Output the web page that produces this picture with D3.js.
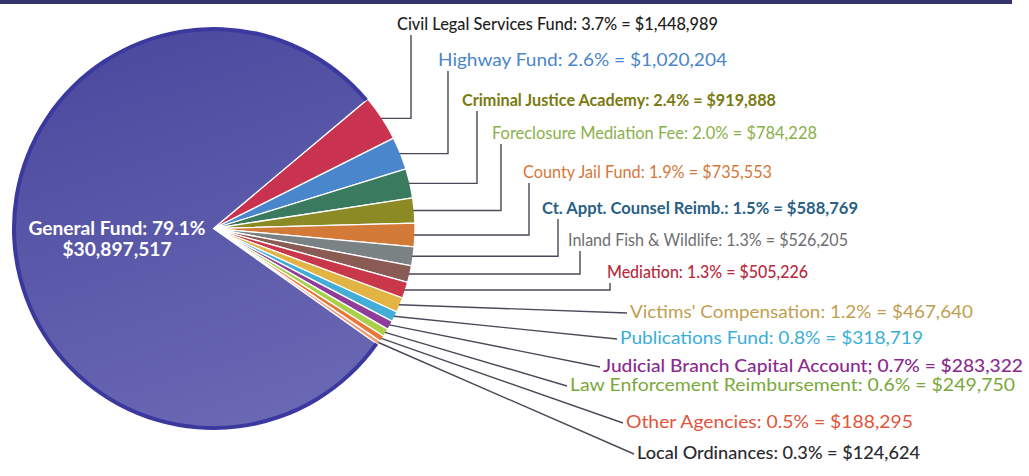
<!DOCTYPE html>
<html>
<head>
<meta charset="utf-8">
<script src="https://cdnjs.cloudflare.com/ajax/libs/d3/7.8.5/d3.min.js"></script>
<style>
  body { margin: 0; background: #fff; }
  svg { display: block; }
</style>
</head>
<body>
<div id="chart"></div>
<script>
// funds, in pie order (clockwise from the red slice)
var categories = [
  "Civil Legal Services Fund", "Highway Fund", "Criminal Justice Academy",
  "Foreclosure Mediation Fee", "County Jail Fund", "Ct. Appt. Counsel Reimb.",
  "Inland Fish & Wildlife", "Mediation", "Victims' Compensation",
  "Publications Fund", "Judicial Branch Capital Account", "Law Enforcement Reimbursement",
  "Other Agencies", "Local Ordinances", "General Fund"
];
var values = [
  1448989, 1020204, 919888, 784228, 735553, 588769, 526205, 505226,
  467640, 318719, 283322, 249750, 188295, 124624, 30897517
];
var separators = [":", ":", ":", ":", ":", ":", ":", ":", ":", ":", ";", ":", ":", ":", ":"];

var sliceColors = [
  "#c9334f", "#4a86cc", "#3a7a5e", "#8b8a24", "#d47a38", "#7b8283", "#8a5a55",
  "#c8374a", "#e2b443", "#42aed8", "#8e3d9a", "#a8d048", "#e8783a", "#ee9a72", "#5554a6"
];
var labelColors = [
  "#1e1e22", "#4a86c8", "#7a7a10", "#8ab04a", "#d4783a", "#2a5f86", "#6e6e70",
  "#b8283c", "#c0a050", "#3aaed8", "#8a2a8e", "#7aa83a", "#e0553a", "#2a2a30", "#ffffff"
];

// label layout (left edge, vertical centre, width) and elbow column for the upper labels
var labelX = [397, 438, 462, 492, 523, 542, 568, 607, 630, 620, 603, 570, 626, 637];
var labelY = [24, 60, 100, 133, 172, 208, 240, 272, 312, 338, 366, 385, 422, 453];
var labelWidth = [321, 289, 314, 325, 249, 316, 280, 201, 343, 303, 420, 445, 287, 283];
var labelWeight = [500, 400, 700, 400, 400, 700, 400, 500, 400, 400, 500, 400, 400, 500];
var elbowX = [411, 448, 477, 501, 529, 558, 580, 610, null, null, null, null, null, null];

function FundPie (params) {
  var attrs = {
    container: 'body',
    width: 1029,
    height: 476,
    center: [213.5, 228.5],
    radius: 201.5,
    startAngle: 50,
    font: "Lato, 'Open Sans', sans-serif"
  };
  attrs = Object.assign(attrs, params);

  var viz = { container: d3.select(attrs.container), svg: null, chart: null };

  function main () {
    var data = categories.map(function (c, i) {
      return { name: c, value: values[i], sep: separators[i], color: sliceColors[i], i: i };
    });
    var total = d3.sum(values);
    var fmt = d3.format(",");
    var pct = function (v) { return (v / total * 100).toFixed(1); };

    var a0 = attrs.startAngle * Math.PI / 180;
    var pie = d3.pie().sort(null).value(function (d) { return d.value; })
      .startAngle(a0).endAngle(a0 + 2 * Math.PI);
    var arcs = pie(data);
    var r = attrs.radius;
    var arc = d3.arc().innerRadius(0).outerRadius(r);
    var rim = d3.arc().innerRadius(r - 4).outerRadius(r);

    viz.svg = patternify({ container: viz.container, tag: 'svg', selector: 'svg-container' })
      .attr('width', attrs.width)
      .attr('height', attrs.height)
      .style('font-family', attrs.font);

    // dark band along the top
    patternify({ container: viz.svg, tag: 'rect', selector: 'top-band' })
      .attr('x', 0).attr('y', 0).attr('width', 1012).attr('height', 4)
      .attr('fill', '#34346c');

    var defs = patternify({ container: viz.svg, tag: 'defs', selector: 'defs' });
    var grad = patternify({ container: defs, tag: 'linearGradient', selector: 'gf-grad' })
      .attr('id', 'gfGrad').attr('x1', 0.3).attr('y1', 0).attr('x2', 0.6).attr('y2', 1);
    grad.selectAll('stop').data([['0%', '#4a499e'], ['100%', '#6a68b4']])
      .join('stop').attr('offset', function (d) { return d[0]; }).attr('stop-color', function (d) { return d[1]; });

    viz.chart = patternify({ container: viz.svg, tag: 'g', selector: 'chart' })
      .attr('transform', 'translate(' + attrs.center[0] + ',' + attrs.center[1] + ')');

    patternify({ container: viz.chart, tag: 'path', selector: 'slice', data: arcs })
      .attr('d', arc)
      .attr('fill', function (d) { return d.data.name === 'General Fund' ? 'url(#gfGrad)' : d.data.color; })
      .attr('stroke', '#fff')
      .attr('stroke-width', 1.3)
      .attr('stroke-linejoin', 'round');

    // darker outer rim on the general fund
    patternify({ container: viz.chart, tag: 'path', selector: 'rim', data: arcs.filter(function (d) { return d.data.name === 'General Fund'; }) })
      .attr('d', rim)
      .attr('fill', '#3b389e');

    // leader lines
    var small = arcs.filter(function (d) { return d.data.name !== 'General Fund'; });
    var ox = attrs.center[0], oy = attrs.center[1];
    patternify({ container: viz.svg, tag: 'path', selector: 'leader', data: small })
      .attr('fill', 'none')
      .attr('stroke', '#4b4858')
      .attr('stroke-width', 1.4)
      .attr('d', function (d) {
        var i = d.data.i;
        var m = (d.startAngle + d.endAngle) / 2;
        var px = ox + (r - 1) * Math.sin(m), py = oy - (r - 1) * Math.cos(m);
        if (elbowX[i] !== null) {
          return d3.line()([[px, py], [elbowX[i], py], [elbowX[i], labelY[i] + 11]]);
        }
        return d3.line()([[px, py], [labelX[i] - 3, labelY[i] + 1]]);
      });

    patternify({ container: viz.svg, tag: 'text', selector: 'label', data: small })
      .attr('x', function (d) { return labelX[d.data.i]; })
      .attr('y', function (d) { return labelY[d.data.i]; })
      .attr('dy', '0.36em')
      .attr('font-size', 17)
      .attr('font-weight', function (d) { return labelWeight[d.data.i]; })
      .attr('fill', function (d) { return labelColors[d.data.i]; })
      .attr('textLength', function (d) { return labelWidth[d.data.i]; })
      .attr('lengthAdjust', 'spacingAndGlyphs')
      .text(function (d) {
        return d.data.name + d.data.sep + ' ' + pct(d.data.value) + '% = $' + fmt(d.data.value);
      });

    // general fund label inside the big slice
    var gf = data[data.length - 1];
    var gfLines = [gf.name + gf.sep + ' ' + pct(gf.value) + '%', '$' + fmt(gf.value)];
    patternify({ container: viz.svg, tag: 'text', selector: 'gf-label', data: gfLines })
      .attr('x', 117)
      .attr('y', function (d, i) { return 229 + i * 21; })
      .attr('dy', '0.36em')
      .attr('text-anchor', 'middle')
      .attr('font-size', 18)
      .attr('font-weight', 700)
      .attr('fill', labelColors[14])
      .attr('textLength', function (d, i) { return i === 0 ? 177 : 109; })
      .attr('lengthAdjust', 'spacingAndGlyphs')
      .text(function (d) { return d; });
  }

  function patternify (params) {
    var container = params.container;
    var selector = params.selector;
    var elementTag = params.tag;
    var data = params.data || [selector];
    var selection = container.selectAll('.' + selector).data(data, function (d, i) {
      if (typeof d === 'object' && d.index !== undefined) return d.index;
      return i;
    });
    selection.exit().remove();
    selection = selection.enter().append(elementTag).merge(selection);
    selection.attr('class', selector);
    return selection;
  }

  main.render = function () {
    main();
    return main;
  };

  return main;
}

FundPie({ container: '#chart' }).render();
</script>
</body>
</html>
